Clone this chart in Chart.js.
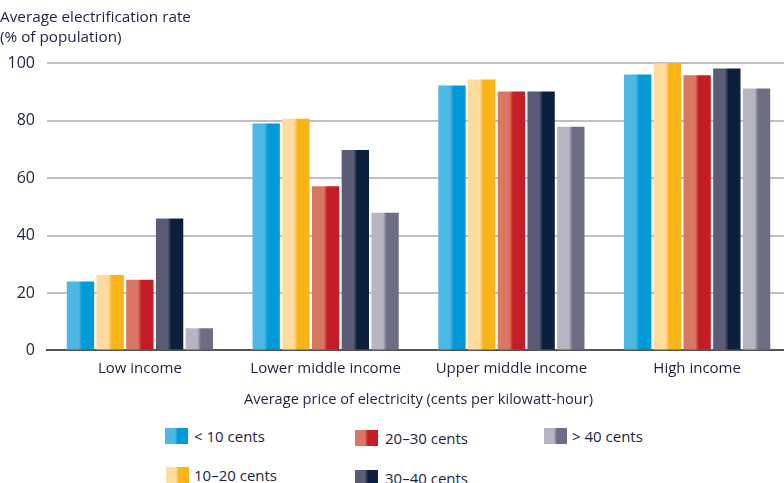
<!DOCTYPE html>
<html>
<head>
<meta charset="utf-8">
<script src="https://cdn.jsdelivr.net/npm/chart.js@4.4.1/dist/chart.umd.min.js"></script>
<style>
  html, body { margin: 0; padding: 0; background: #fff; overflow: hidden; width: 784px; height: 483px; }
  #wrap { position: absolute; left: 0; top: 0; width: 792px; height: 412px; }
  .lg { position: absolute; font-family: "Open Sans", sans-serif; font-size: 15px; color: #1c2340; white-space: nowrap; line-height: 18px; }
  .sw { position: absolute; width: 23px; height: 16px; }
</style>
</head>
<body>
<div id="wrap"><canvas id="c" width="792" height="412"></canvas></div>
<div id="legend"></div>
<script>
const categories = ["Low income", "Lower middle income", "Upper middle income", "High income"];
const seriesNames = ["< 10 cents", "10\u201320 cents", "20\u201330 cents", "30\u201340 cents", "> 40 cents"];
const under10 = [24, 79, 92.3, 96.1];
const c10to20 = [26.3, 80.7, 94.4, 100];
const c20to30 = [24.6, 57.2, 90.2, 95.8];
const c30to40 = [46, 69.8, 90.2, 98.2];
const over40 = [7.7, 48, 77.9, 91.2];
const yTicks = [0, 20, 40, 60, 80, 100];
const yTitle = ["Average electrification rate", "(% of population)"];
const xTitle = "Average price of electricity (cents per kilowatt-hour)";

const seriesValues = [under10, c10to20, c20to30, c30to40, over40];
const lightColors = ["#4DB8E4", "#FEDB9E", "#DA7764", "#5A5C76", "#B6B5C1"];
const darkColors = ["#009AD8", "#FBB417", "#C51D27", "#0D1F3E", "#6D6E84"];
const textColor = "#1c2340";

const gradientPlugin = {
  id: 'barGradient',
  beforeDatasetsDraw(chart) {
    const ctx = chart.ctx;
    chart.data.datasets.forEach((ds, di) => {
      const meta = chart.getDatasetMeta(di);
      meta.data.forEach(el => {
        const p = el.getProps(['x', 'width'], true);
        const x0 = p.x - p.width / 2, x1 = p.x + p.width / 2;
        const g = ctx.createLinearGradient(x0, 0, x1, 0);
        g.addColorStop(0, lightColors[di]);
        g.addColorStop(0.43, lightColors[di]);
        g.addColorStop(0.56, darkColors[di]);
        g.addColorStop(1, darkColors[di]);
        const o = Object.assign({}, el.options);
        o.backgroundColor = g;
        el.options = o;
      });
    });
  }
};

new Chart(document.getElementById('c'), {
  type: 'bar',
  data: {
    labels: categories,
    datasets: seriesNames.map((n, i) => ({
      label: n,
      data: seriesValues[i],
      backgroundColor: darkColors[i],
      borderWidth: 0,
      barPercentage: 0.92,
      categoryPercentage: 0.8
    }))
  },
  options: {
    responsive: false,
    animation: false,
    layout: { padding: { left: 0, right: 2, top: 0, bottom: 3 } },
    plugins: {
      legend: { display: false },
      tooltip: { enabled: false },
      title: {
        display: true,
        text: yTitle,
        align: 'start',
        color: textColor,
        font: { family: 'Open Sans', size: 15.3, weight: 'normal', lineHeight: 1.35 },
        padding: { top: 7, bottom: 15 }
      }
    },
    scales: {
      x: {
        grid: { display: false, drawTicks: false },
        border: { display: true, color: '#555558', width: 2 },
        ticks: { color: textColor, font: { family: 'Open Sans', size: 15 }, padding: 9 },
        title: {
          display: true, text: xTitle, color: textColor,
          font: { family: 'Open Sans', size: 14.6 }, padding: { top: 5, bottom: 0 }
        }
      },
      y: {
        min: 0, max: 100,
        afterBuildTicks: s => { s.ticks = yTicks.map(v => ({ value: v })); },
        afterFit: s => { s.width = 47; },
        grid: {
          drawTicks: false,
          color: c => c.tick && c.tick.value === 0 ? '#555558' : '#BEBDC9',
          lineWidth: 2
        },
        border: { display: false },
        ticks: { color: textColor, font: { family: 'Open Sans', size: 16 }, padding: 12 }
      }
    }
  },
  plugins: [gradientPlugin]
});

// HTML legend in the reference's three-column arrangement
const legendPos = [
  { sx: 165, sy: 428, tx: 194, ty: 427 },
  { sx: 166, sy: 467, tx: 194, ty: 466 },
  { sx: 355, sy: 430, tx: 385, ty: 429 },
  { sx: 355, sy: 470, tx: 385, ty: 469 },
  { sx: 544, sy: 428, tx: 572, ty: 427 }
];
const lg = document.getElementById('legend');
seriesNames.forEach((n, i) => {
  const p = legendPos[i];
  const sw = document.createElement('div');
  sw.className = 'sw';
  sw.style.left = p.sx + 'px';
  sw.style.top = p.sy + 'px';
  sw.style.background = `linear-gradient(to right, ${lightColors[i]} 0%, ${lightColors[i]} 43%, ${darkColors[i]} 56%, ${darkColors[i]} 100%)`;
  lg.appendChild(sw);
  const t = document.createElement('div');
  t.className = 'lg';
  t.style.left = p.tx + 'px';
  t.style.top = p.ty + 'px';
  t.textContent = n;
  lg.appendChild(t);
});
</script>
</body>
</html>
